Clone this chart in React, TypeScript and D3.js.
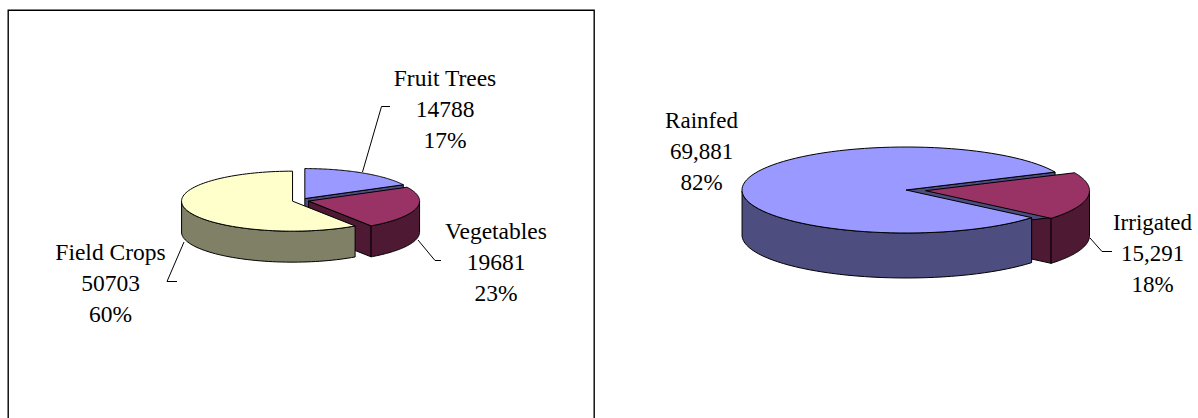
import React from "react";
import * as d3 from "d3";

const leftLabels = ["Fruit Trees", "Vegetables", "Field Crops"];
const leftValues = [14788, 19681, 50703];
const leftValueText = ["14788", "19681", "50703"];
const leftPercents = ["17%", "23%", "60%"];
const rightLabels = ["Rainfed", "Irrigated"];
const rightValues = [69881, 15291];
const rightValueText = ["69,881", "15,291"];
const rightPercents = ["82%", "18%"];

const BLUE = ["#9999ff", "#4d4d80"];
const PLUM = ["#993366", "#4d1933"];
const CREAM = ["#ffffcc", "#808066"];

type Pie = {
  cx: number; cy: number; rx: number; ry: number; depth: number;
  values: number[]; startDeg: number; explode: number[]; colors: string[][];
  order: number[];
};

const leftPie: Pie = {
  cx: 300.5, cy: 200.5, rx: 111, ry: 30, depth: 31,
  values: leftValues, startDeg: 0, explode: [0.075, 0.075, 0.075],
  colors: [BLUE, PLUM, CREAM], order: [0, 1, 2],
};
const rightPie: Pie = {
  cx: 906, cy: 190, rx: 164, ry: 43, depth: 45,
  values: rightValues, startDeg: 130, explode: [0, 0.12],
  colors: [BLUE, PLUM], order: [1, 0],
};

function pieParts(p: Pie) {
  const start = (p.startDeg * Math.PI) / 180;
  const arcs = d3.pie<number>().sort(null).startAngle(start).endAngle(start + 2 * Math.PI)(p.values);
  const xs = d3.scaleLinear().domain([-1, 1]).range([-p.rx, p.rx]);
  const ys = d3.scaleLinear().domain([-1, 1]).range([-p.ry, p.ry]);
  return arcs.map((a, i) => {
    const mid = (a.startAngle + a.endAngle) / 2;
    const ox = p.cx + xs(Math.sin(mid) * p.explode[i]);
    const oy = p.cy + ys(-Math.cos(mid) * p.explode[i]);
    const at = (t: number, dz = 0): [number, number] => [ox + xs(Math.sin(t)), oy + ys(-Math.cos(t)) + dz];
    const n = 96;
    const angles = d3.range(n + 1).map((k) => a.startAngle + ((a.endAngle - a.startAngle) * k) / n);
    const line = d3.line();
    const top = line([[ox, oy], ...angles.map((t) => at(t))])! + "Z";
    // outer wall: only the part of the rim facing the viewer
    const rimRuns: number[][] = [];
    let run: number[] = [];
    angles.forEach((t) => {
      if (Math.cos(t) <= 0) run.push(t);
      else if (run.length) { rimRuns.push(run); run = []; }
    });
    if (run.length) rimRuns.push(run);
    const sides = rimRuns.map(
      (r) => line([...r.map((t) => at(t)), ...[...r].reverse().map((t) => at(t, p.depth))])! + "Z",
    );
    const walls: string[] = [];
    const wall = (t: number) =>
      line([[ox, oy], at(t), at(t, p.depth), [ox, oy + p.depth]])! + "Z";
    if (Math.sin(a.startAngle) < -1e-6) walls.push(wall(a.startAngle));
    if (Math.sin(a.endAngle) > 1e-6) walls.push(wall(a.endAngle));
    return { top, sides, walls, colors: p.colors[i] };
  });
}

function Pie3D({ pie }: { pie: Pie }) {
  const parts = pieParts(pie);
  const stroke = { stroke: "#000", strokeWidth: 1, strokeLinejoin: "round" as const };
  return (
    <g>
      {pie.order.map((i) =>
        parts[i].walls.map((d, k) => <path key={`w${i}${k}`} d={d} fill={parts[i].colors[1]} {...stroke} />),
      )}
      {pie.order.map((i) => (
        <g key={i}>
          {parts[i].sides.map((d, k) => <path key={k} d={d} fill={parts[i].colors[1]} {...stroke} />)}
          <path d={parts[i].top} fill={parts[i].colors[0]} {...stroke} />
        </g>
      ))}
    </g>
  );
}

function Label({ x, y, lines, size }: { x: number; y: number; lines: string[]; size: number }) {
  return (
    <text x={x} y={y} textAnchor="middle" fontFamily="'Liberation Serif', serif" fontSize={size} fill="#000">
      {lines.map((s, i) => (
        <tspan key={i} x={x} y={y + i * 31}>{s}</tspan>
      ))}
    </text>
  );
}

const leader = (pts: [number, number][]) => d3.line()(pts)!;

export default function App() {
  return (
    <svg width={1198} height={418} style={{ position: "absolute", left: 0, top: 0, background: "#fff" }}>
      <path d="M8.2 418V10.2H594.2V418" fill="none" stroke="#000" strokeWidth={1.4} />
      <Pie3D pie={leftPie} />
      <Pie3D pie={rightPie} />
      <g fill="none" stroke="#000" strokeWidth={1}>
        <path d={leader([[390, 106.5], [381.5, 106.5], [362.5, 172]])} />
        <path d={leader([[441, 260.5], [435, 260.5], [418, 240]])} />
        <path d={leader([[177, 281.5], [167, 281.5], [184, 242]])} />
        <path d={leader([[1112, 251.5], [1102, 251.5], [1090, 238]])} />
      </g>
      <Label size={23.5} x={445} y={86} lines={[leftLabels[0], leftValueText[0], leftPercents[0]]} />
      <Label size={23.5} x={496} y={239} lines={[leftLabels[1], leftValueText[1], leftPercents[1]]} />
      <Label size={23.5} x={110.5} y={260} lines={[leftLabels[2], leftValueText[2], leftPercents[2]]} />
      <Label size={23} x={701.5} y={128} lines={[rightLabels[0], rightValueText[0], rightPercents[0]]} />
      <Label size={23} x={1152.5} y={230} lines={[rightLabels[1], rightValueText[1], rightPercents[1]]} />
    </svg>
  );
}
